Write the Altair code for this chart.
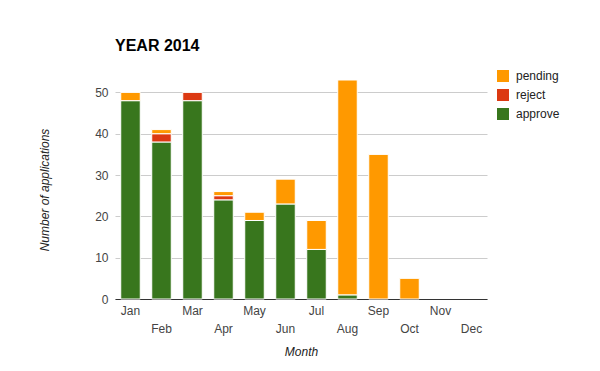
import altair as alt
import pandas as pd

months = ["Jan", "Feb", "Mar", "Apr", "May", "Jun", "Jul", "Aug", "Sep", "Oct", "Nov", "Dec"]
approve = [48, 38, 48, 24, 19, 23, 12, 1, 0, 0, 0, 0]
reject = [0, 2, 2, 1, 0, 0, 0, 0, 0, 0, 0, 0]
pending = [2, 1, 0, 1, 2, 6, 7, 52, 35, 5, 0, 0]
statuses = ["pending", "reject", "approve"]
colors = ["#ff9900", "#dc3912", "#38761d"]
y_ticks = [0, 10, 20, 30, 40, 50]

rows = []
for i, m in enumerate(months):
    for rank, (s, vals) in enumerate([("approve", approve), ("reject", reject), ("pending", pending)]):
        if vals[i] > 0:
            rows.append({"Month": m, "status": s, "count": vals[i], "rank": rank})
df = pd.DataFrame(rows)

FONT = "Arial, Liberation Sans"
even_test = "indexof(['Feb','Apr','Jun','Aug','Oct','Dec'], datum.value) >= 0"

chart = alt.Chart(df).mark_bar(stroke="white", strokeWidth=1).encode(
    x=alt.X("Month:N", sort=months,
            scale=alt.Scale(domain=months, paddingInner=0.37, paddingOuter=0.185),
            axis=alt.Axis(title="Month", labelAngle=0, ticks=False,
                          labelPadding={"condition": {"test": even_test, "value": 24}, "value": 6},
                          labelFontSize=12, labelColor="#444", labelFont=FONT,
                          domainColor="#333", domainWidth=1,
                          titleFont=FONT, titleFontSize=12, titleFontStyle="italic",
                          titleFontWeight="normal", titleColor="#222",
                          titleY=47, titleBaseline="top")),
    y=alt.Y("count:Q", stack="zero",
            scale=alt.Scale(domain=[0, 53], nice=False),
            axis=alt.Axis(title="Number of applications", values=y_ticks, ticks=False,
                          domain=False, gridColor="#cccccc", labelPadding=7,
                          labelFontSize=12, labelColor="#444", labelFont=FONT,
                          titleFont=FONT, titleFontSize=12, titleFontStyle="italic",
                          titleFontWeight="normal", titleColor="#222",
                          titleX=-64, titleBaseline="bottom")),
    color=alt.Color("status:N",
                    scale=alt.Scale(domain=statuses, range=colors),
                    legend=alt.Legend(title=None, orient="none", legendX=382, legendY=-10,
                                      symbolType="square", symbolSize=144,
                                      symbolStrokeWidth=0, rowPadding=7, labelOffset=7,
                                      labelFontSize=12, labelColor="#222", labelFont=FONT,
                                      padding=0)),
    order=alt.Order("rank:Q", sort="ascending"),
).properties(
    width=372, height=219,
    title=alt.TitleParams("YEAR 2014", anchor="start", frame="group", fontSize=16,
                          fontWeight="bold", font=FONT, color="#000", offset=16),
    autosize=alt.AutoSizeParams(type="none"),
    padding={"left": 107, "top": 72, "right": 100, "bottom": 60},
).configure_view(stroke=None)

chart.save("out.html", embed_options={"renderer": "svg", "actions": False})
